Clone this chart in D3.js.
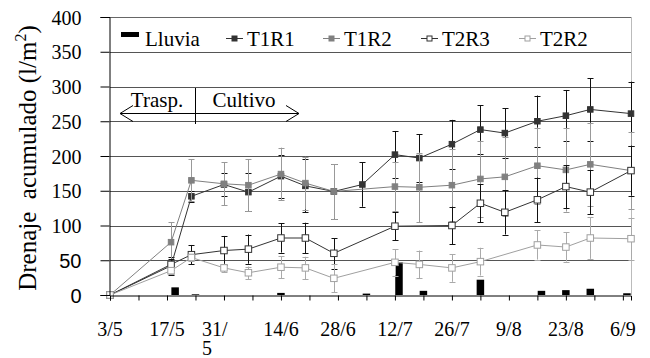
<!DOCTYPE html>
<html><head><meta charset="utf-8">
<script src="https://cdn.jsdelivr.net/npm/d3@7"></script>
<style>html,body{margin:0;padding:0;background:#fff;}svg{display:block;}</style>
</head><body><svg id="c" width="650" height="358"></svg>
<script>
// ---------- data ----------
const pointDates = ["3/5","18/5","23/5","31/5","6/6","14/6","20/6","27/6","4/7","12/7","18/7","26/7","2/8","8/8","16/8","23/8","29/8","8/9"];
const t1r1    = [0, 42, 142, 159, 148, 171, 157, 149, 159, 202, 197, 217, 238, 233, 250, 258, 267, 261];
const t1r1Err = [0, 13, 8, 17, 27, 31, 38, 39, 32, 34, 34, 35, 35, 36, 37, 37, 45, 46];
const t1r2    = [0, 76, 165, 160, 158, 174, 161, 149, null, 156, 155, 158, 167, 170, 186, 180, 188, 179];
const t1r2Err = [0, 29, 30, 31, 37, 38, 38, 39, null, 35, 50, 52, 55, 57, 55, 60, 60, 55];
const t2r3    = [0, 44, 58, 64, 66, 82, 82, 60, null, 99, null, 100, 132, 119, 137, 156, 148, 179];
const t2r3Err = [0, 8, 14, 21, 21, 21, 22, 22, null, 20, null, 27, 27, 32, 32, 31, 32, 36];
const t2r2    = [0, 35, 54, 39, 32, 40, 39, 24, null, 47, 44, 39, 48, null, 72, 69, 82, 81];
const t2r2Err = [0, 5, 5, 6, 9, 16, 16, 20, null, 19, 20, 20, 20, null, 21, 21, 30, 30];
const rainDates  = ["19/5","24/5","14/6","5/7","13/7","19/7","2/8","17/8","23/8","29/8","7/9"];
const rainValues = [11, 1, 3, 2, 47, 6, 22, 6, 7, 9, 2.5];
const yTicks = [0, 50, 100, 150, 200, 250, 300, 350, 400];
const xTickLabels = ["3/5","17/5","31/5","14/6","28/6","12/7","26/7","9/8","23/8","6/9"];
const seriesNames = ["T1R1","T1R2","T2R3","T2R2"];
const rainName = "Lluvia";
const yTitle = "Drenaje  acumulado (l/m";
const annLeft = "Trasp.", annRight = "Cultivo", annDate = "24/5";

// ---------- helpers ----------
const YEAR = 2000;
const pd = s => { const [d,m] = s.split("/").map(Number); return new Date(YEAR, m-1, d); };
const start = pd("3/5"), end = pd("8/9");
const SERIF = '"Liberation Serif"', SANS = '"Liberation Sans"';

const svg = d3.select("#c");
const x = d3.scaleTime().domain([start, end]).range([110, 631]);
const y = d3.scaleLinear().domain([0, 400]).range([295, 17]);
const X0 = x.range()[0], X1 = x.range()[1];
const cr = v => Math.round(v) + 0.5;

// gridlines
svg.append("g").selectAll("line").data(yTicks.filter(v => v > 0 && v < 400)).join("line")
  .attr("x1", X0).attr("x2", X1).attr("y1", d => cr(y(d))).attr("y2", d => cr(y(d)))
  .attr("stroke", "#555").attr("stroke-width", 1);
svg.append("line").attr("x1", X0).attr("x2", X1).attr("y1", cr(y(400))).attr("y2", cr(y(400)))
  .attr("stroke", "#666");
svg.append("line").attr("x1", cr(X1)).attr("x2", cr(X1)).attr("y1", y(400)).attr("y2", y(0))
  .attr("stroke", "#bbb");

// rain bars
const barW = 7.5;
svg.append("g").selectAll("rect").data(rainDates.map((d, i) => ({d: pd(d), v: rainValues[i]}))).join("rect")
  .attr("x", d => x(d.d) - barW/2).attr("width", barW)
  .attr("y", d => y(d.v)).attr("height", d => y(0) - y(d.v)).attr("fill", "#000");

// series
const styles = [
  {vals: t1r1, err: t1r1Err, color: "#333", errColor: "#111", fill: "#333", size: 5.5},
  {vals: t1r2, err: t1r2Err, color: "#808080", errColor: "#999", fill: "#808080", size: 5.5},
  {vals: t2r3, err: t2r3Err, color: "#333", errColor: "#111", fill: "#fff", size: 6.5},
  {vals: t2r2, err: t2r2Err, color: "#a0a0a0", errColor: "#aaa", fill: "#fff", size: 6.5},
];
const dates = pointDates.map(pd);
styles.forEach(s => {
  const pts = dates.map((d, i) => ({d, v: s.vals[i], e: s.err[i]})).filter(p => p.v !== null);
  const g = svg.append("g");
  const eb = g.append("g").attr("stroke", s.errColor).attr("stroke-width", 1);
  pts.filter(p => p.e > 0).forEach(p => {
    const cx = cr(x(p.d));
    eb.append("line").attr("x1", cx).attr("x2", cx).attr("y1", y(p.v - p.e)).attr("y2", y(p.v + p.e));
    [p.v - p.e, p.v + p.e].forEach(v => eb.append("line").attr("x1", cx - 3).attr("x2", cx + 3)
      .attr("y1", cr(y(v))).attr("y2", cr(y(v))));
  });
  g.append("path").datum(pts)
    .attr("d", d3.line().x(p => x(p.d)).y(p => y(p.v)))
    .attr("fill", "none").attr("stroke", s.color).attr("stroke-width", 1);
  g.selectAll("rect").data(pts).join("rect")
    .attr("x", p => x(p.d) - s.size/2).attr("y", p => y(p.v) - s.size/2)
    .attr("width", s.size).attr("height", s.size)
    .attr("fill", s.fill).attr("stroke", s.color).attr("stroke-width", 1);
});

// y axis
const yAxis = svg.append("g").attr("transform", `translate(${cr(X0)-1},0)`)
  .call(d3.axisLeft(y).tickValues(yTicks).tickSize(9).tickPadding(19).tickFormat(d3.format("d")));
yAxis.select(".domain").attr("stroke", "#000");
yAxis.selectAll(".tick line").attr("stroke", "#000");
yAxis.selectAll(".tick text").attr("fill", "#000").attr("dy", "0.36em")
  .style("font-family", d => d < 100 ? SANS : SERIF).style("font-size", "20px");

// x axis
const minor = d3.range(0, 19).map(i => d3.timeDay.offset(start, 7 * i));
const xAxis = svg.append("g").attr("transform", `translate(0,${cr(y(0))})`)
  .call(d3.axisBottom(x).tickValues(minor).tickSize(5).tickFormat(""));
xAxis.select(".domain").attr("stroke", "#000");
xAxis.selectAll(".tick line").attr("stroke", "#000");
const txt = sel => sel.style("font-family", SERIF).style("font-size", "20px").attr("fill", "#000");
xTickLabels.forEach(t => {
  const px = x(pd(t));
  if (t === "31/5") {
    const tx = svg.append("text").call(txt).attr("x", px - 22).attr("y", 336).attr("text-anchor", "start");
    tx.append("tspan").attr("x", px - 22).text("31/");
    tx.append("tspan").attr("x", px - 22).attr("dy", 19).text("5");
  } else {
    svg.append("text").call(txt).attr("x", px).attr("y", 336).attr("text-anchor", "middle").text(t);
  }
});

// y title
const yt = svg.append("text").attr("transform", `translate(36,${(y(0)+y(400))/2 + 2}) rotate(-90)`)
  .attr("text-anchor", "middle").style("font-family", SERIF).style("font-size", "25px")
  .attr("fill", "#000").style("white-space", "pre");
yt.append("tspan").text(yTitle);
yt.append("tspan").style("font-size", "16px").attr("dy", -10).text("2");
yt.append("tspan").attr("dy", 10).text(")");

// legend
const legY = 46;
const ltxt = sel => sel.style("font-family", SERIF).style("font-size", "21px").attr("fill", "#000");
svg.append("rect").attr("x", 121).attr("y", 32).attr("width", 18).attr("height", 5).attr("fill", "#000");
svg.append("text").call(ltxt).attr("x", 145).attr("y", legY).text(rainName);
const legX = [226, 323, 421, 519];
seriesNames.forEach((n, i) => {
  const s = styles[i], lx = legX[i];
  svg.append("line").attr("x1", lx).attr("x2", lx + 17).attr("y1", 38.5).attr("y2", 38.5)
    .attr("stroke", s.color).attr("stroke-width", 1);
  svg.append("rect").attr("x", lx + 8.5 - 2.5).attr("y", 38.5 - 2.5).attr("width", 5).attr("height", 5)
    .attr("fill", s.fill).attr("stroke", s.color).attr("stroke-width", 1);
  svg.append("text").call(ltxt).attr("x", lx + 21).attr("y", legY).text(n);
});

// annotation
const ax = cr(x(pd(annDate)));
const ay = 113.5;
const an = svg.append("g").attr("stroke", "#000").attr("stroke-width", 1).attr("fill", "none");
an.append("line").attr("x1", ax).attr("x2", ax).attr("y1", 88).attr("y2", 124);
an.append("line").attr("x1", 120).attr("x2", 299).attr("y1", ay).attr("y2", ay);
an.append("path").attr("d", `M133,${ay-8}L120,${ay}L133,${ay+8}`);
an.append("path").attr("d", `M286,${ay-8}L299,${ay}L286,${ay+8}`);
svg.append("text").call(ltxt).attr("x", 157).attr("y", 107).attr("text-anchor", "middle").text(annLeft);
svg.append("text").call(ltxt).attr("x", 244).attr("y", 107).attr("text-anchor", "middle").text(annRight);
</script></body></html>
